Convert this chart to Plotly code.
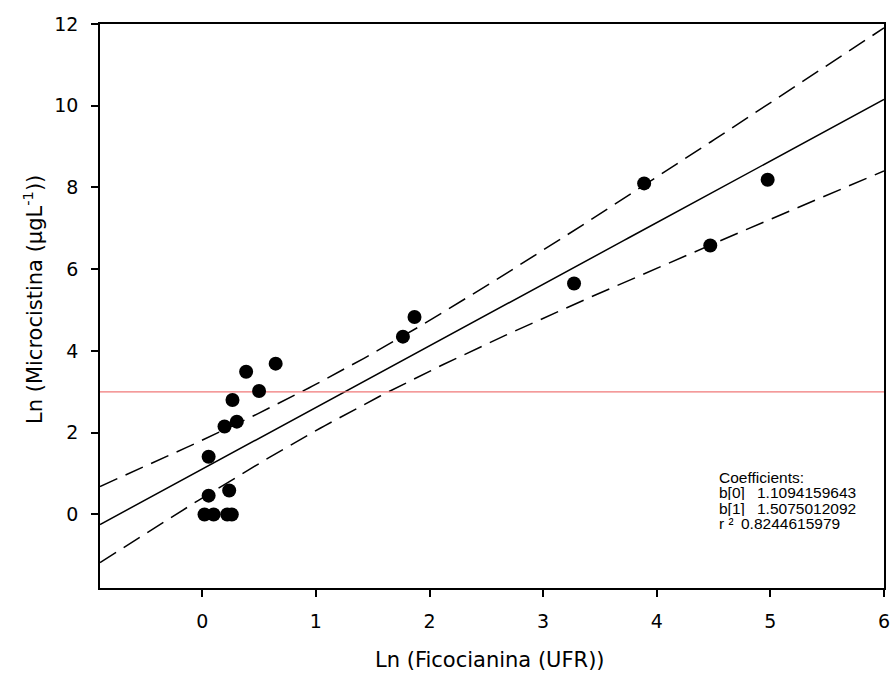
import numpy as np
import plotly.graph_objects as go

# Data
ln_ficocianina = [0.02, 0.10, 0.22, 0.26, 0.056, 0.056, 0.237, 0.196, 0.304, 0.266,
                  0.50, 0.386, 0.646, 1.766, 1.868, 3.272, 3.889, 4.471, 4.976]
ln_microcistina = [0.0, 0.0, 0.0, 0.0, 0.46, 1.41, 0.585, 2.15, 2.27, 2.80,
                   3.02, 3.49, 3.69, 4.35, 4.83, 5.65, 8.10, 6.58, 8.19]

b0 = 1.1094159643
b1 = 1.5075012092
r2 = 0.8244615979
threshold = 3.0
x_range = [-0.9, 6.0]
y_range = [-1.8, 12.0]
x_ticks = [0, 1, 2, 3, 4, 5, 6]
y_ticks = [0, 2, 4, 6, 8, 10, 12]
t_crit = 2.1098  # t(0.975, df=17)

x = np.array(ln_ficocianina)
y = np.array(ln_microcistina)
n = len(x)
resid = y - (b0 + b1 * x)
s = np.sqrt(np.sum(resid ** 2) / (n - 2))
xm = x.mean()
sxx = np.sum((x - xm) ** 2)

xf = np.linspace(x_range[0], x_range[1], 200)
yf = b0 + b1 * xf
half = t_crit * s * np.sqrt(1.0 / n + (xf - xm) ** 2 / sxx)

FONT = "DejaVu Sans, Liberation Sans, Arial, sans-serif"
FONT2 = "Liberation Sans, Arial, sans-serif"

fig = go.Figure()
fig.add_trace(go.Scatter(x=xf, y=yf + half, mode="lines",
                         line=dict(color="black", width=1.5, dash="19px,9px"), hoverinfo="skip"))
fig.add_trace(go.Scatter(x=xf, y=yf - half, mode="lines",
                         line=dict(color="black", width=1.5, dash="19px,9px"), hoverinfo="skip"))
fig.add_trace(go.Scatter(x=xf, y=yf, mode="lines",
                         line=dict(color="black", width=1.5), hoverinfo="skip"))
fig.add_trace(go.Scatter(x=x_range, y=[threshold, threshold], mode="lines",
                         line=dict(color="#f07878", width=1.2), hoverinfo="skip"))
fig.add_trace(go.Scatter(x=ln_ficocianina, y=ln_microcistina, mode="markers",
                         marker=dict(color="black", size=14)))

# plot area in pixels: x 100..884, y 24..588
def px_x(p):
    return (p - 100) / 784.0

def px_y(p):
    return (588 - p) / 564.0

coef_font = dict(family=FONT2, size=15.5, color="black")
labels = ["Coefficients:", "b[0]", "b[1]", "r ²"]
values = ["", "%.10f" % b0, "%.10f" % b1, "%.10f" % r2]
value_x = [None, 756, 756, 740]
line_y = [477, 492.5, 508, 523.5]
for lab, val, vx, ly in zip(labels, values, value_x, line_y):
    fig.add_annotation(x=px_x(718), y=px_y(ly), xref="paper", yref="paper",
                       xanchor="left", yanchor="middle", showarrow=False,
                       height=15, borderpad=0, valign="middle",
                       text=lab, font=coef_font)
    if val:
        fig.add_annotation(x=px_x(vx), y=px_y(ly), xref="paper", yref="paper",
                           xanchor="left", yanchor="middle", showarrow=False,
                           height=15, borderpad=0, valign="middle",
                           text=val, font=coef_font)

# axis titles
fig.add_annotation(x=px_x(490), y=px_y(660), xref="paper", yref="paper",
                   xanchor="center", yanchor="middle", showarrow=False,
                   text="Ln (Ficocianina (UFR))", font=dict(family=FONT, size=21, color="black"))
fig.add_annotation(x=px_x(33), y=px_y(300), xref="paper", yref="paper",
                   xanchor="center", yanchor="middle", showarrow=False, textangle=-90,
                   text="Ln (Microcistina (μgL<sup>-1</sup>))", font=dict(family=FONT, size=21, color="black"))

axis_common = dict(showgrid=False, zeroline=False, showline=True, linecolor="black",
                   linewidth=1.5, mirror=True, ticks="outside", ticklen=7,
                   tickwidth=1.5, tickcolor="black", automargin=False,
                   tickfont=dict(family=FONT, size=19, color="black"))

fig.update_xaxes(range=x_range, tickmode="array", tickvals=x_ticks,
                 ticklabelstandoff=8, **axis_common)
fig.update_yaxes(range=y_range, tickmode="array", tickvals=y_ticks,
                 ticklabelstandoff=9, **axis_common)

fig.update_layout(width=892, height=676, showlegend=False,
                  plot_bgcolor="white", paper_bgcolor="white",
                  margin=dict(l=100, r=8, t=24, b=88))

fig.write_html("out.html", config={"displayModeBar": False},
               post_script="document.body.style.margin='0';document.body.style.overflow='hidden';")
